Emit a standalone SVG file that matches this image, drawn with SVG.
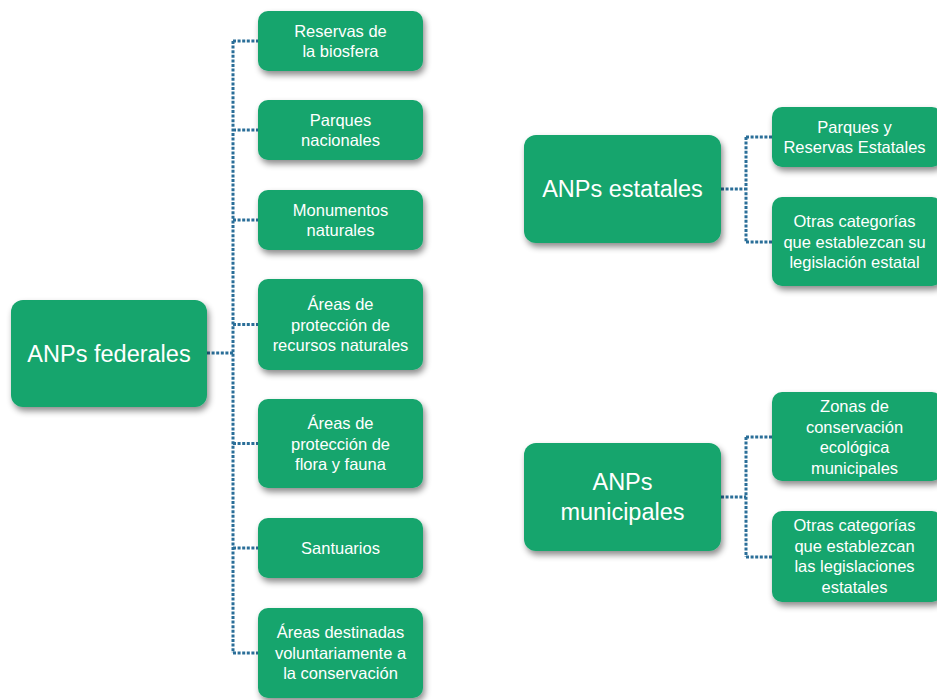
<svg xmlns="http://www.w3.org/2000/svg" width="937" height="700" viewBox="0 0 937 700">
<defs>
<filter id="sh" x="-20%" y="-20%" width="150%" height="160%">
<feDropShadow dx="2" dy="4" stdDeviation="3" flood-color="#000" flood-opacity="0.45"/>
</filter>
</defs>
<style>
.box{fill:#17a56d;filter:url(#sh)}
.t{font-family:"Liberation Sans",Arial,sans-serif;font-size:16.5px;fill:#fff;text-anchor:middle}
.tp{font-family:"Liberation Sans",Arial,sans-serif;font-size:23.5px;fill:#fff;text-anchor:middle}
.c{stroke:#2a6e98;stroke-width:3;stroke-dasharray:3 1.6;fill:none}
</style>
<rect width="937" height="700" fill="#fff"/>
<g id="connectors">
<path class="c" d="M233 41V653M207 353H233M233 41H258M233 130H258M233 220H258M233 324.5H258M233 443.5H258M233 548H258M233 653H258"/>
<path class="c" d="M746 137V242M721 189H746M746 137H772M746 242H772"/>
<path class="c" d="M746 437V557M721 497H746M746 437H772M746 557H772"/>
</g>
<g id="federales"><rect class="box" x="11" y="300" width="196" height="107" rx="12"/><text class="tp" x="109" y="362">ANPs federales</text></g>
<g id="reservas"><rect class="box" x="258" y="11" width="165" height="60" rx="10"/><text class="t" x="340.5" y="37">Reservas de</text><text class="t" x="340.5" y="57">la biosfera</text></g>
<g id="parques"><rect class="box" x="258" y="100" width="165" height="60" rx="10"/><text class="t" x="340.5" y="126">Parques</text><text class="t" x="340.5" y="146">nacionales</text></g>
<g id="monumentos"><rect class="box" x="258" y="190" width="165" height="60" rx="10"/><text class="t" x="340.5" y="216">Monumentos</text><text class="t" x="340.5" y="236">naturales</text></g>
<g id="recursos"><rect class="box" x="258" y="279" width="165" height="91" rx="10"/><text class="t" x="340.5" y="310">Áreas de</text><text class="t" x="340.5" y="330.5">protección de</text><text class="t" x="340.5" y="351">recursos naturales</text></g>
<g id="flora"><rect class="box" x="258" y="399" width="165" height="89" rx="10"/><text class="t" x="340.5" y="429">Áreas de</text><text class="t" x="340.5" y="449.5">protección de</text><text class="t" x="340.5" y="470">flora y fauna</text></g>
<g id="santuarios"><rect class="box" x="258" y="518" width="165" height="60" rx="10"/><text class="t" x="340.5" y="554">Santuarios</text></g>
<g id="voluntarias"><rect class="box" x="258" y="608" width="165" height="90" rx="10"/><text class="t" x="340.5" y="638">Áreas destinadas</text><text class="t" x="340.5" y="658.5">voluntariamente a</text><text class="t" x="340.5" y="679">la conservación</text></g>
<g id="estatales"><rect class="box" x="524" y="135" width="197" height="108" rx="12"/><text class="tp" x="622.5" y="197">ANPs estatales</text></g>
<g id="parques-est"><rect class="box" x="772" y="107" width="170" height="60" rx="10"/><text class="t" x="854.5" y="133">Parques y</text><text class="t" x="854.5" y="153">Reservas Estatales</text></g>
<g id="otras-est"><rect class="box" x="772" y="197" width="170" height="89" rx="10"/><text class="t" x="854.5" y="227">Otras categorías</text><text class="t" x="854.5" y="247.5">que establezcan su</text><text class="t" x="854.5" y="268">legislación estatal</text></g>
<g id="municipales"><rect class="box" x="524" y="443" width="197" height="108" rx="12"/><text class="tp" x="622.5" y="490">ANPs</text><text class="tp" x="622.5" y="520">municipales</text></g>
<g id="zonas"><rect class="box" x="772" y="392" width="170" height="89" rx="10"/><text class="t" x="854.5" y="412">Zonas de</text><text class="t" x="854.5" y="432.5">conservación</text><text class="t" x="854.5" y="453">ecológica</text><text class="t" x="854.5" y="473.5">municipales</text></g>
<g id="otras-mun"><rect class="box" x="772" y="511" width="170" height="91" rx="10"/><text class="t" x="854.5" y="531">Otras categorías</text><text class="t" x="854.5" y="551.5">que establezcan</text><text class="t" x="854.5" y="572">las legislaciones</text><text class="t" x="854.5" y="592.5">estatales</text></g>
</svg>
